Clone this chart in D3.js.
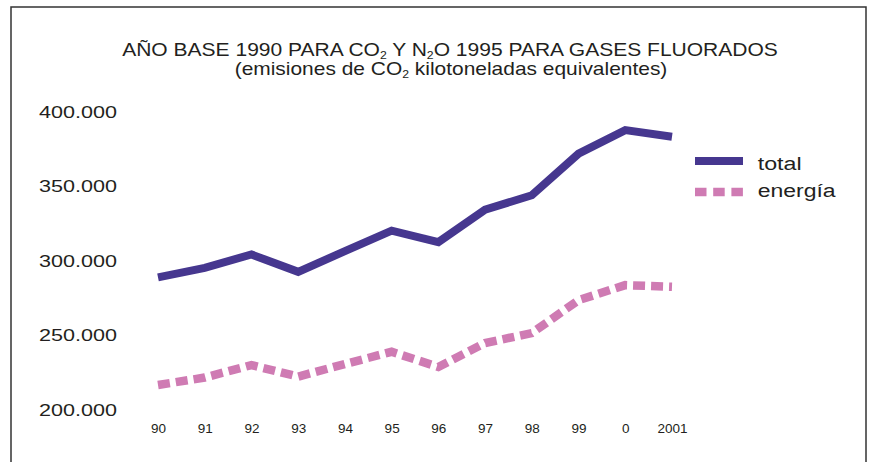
<!DOCTYPE html>
<html>
<head>
<meta charset="utf-8">
<script src="https://cdn.jsdelivr.net/npm/d3@7"></script>
<style>
  body { margin: 0; background: #fff; }
  text { font-family: "Liberation Sans", Arial, sans-serif; fill: #231f20; }
</style>
</head>
<body>
<svg id="chart" width="871" height="462"></svg>
<script>
// data
var years = ['90', '91', '92', '93', '94', '95', '96', '97', '98', '99', '0', '2001'];
var total = [288900, 295300, 304300, 292600, 306500, 320300, 312600, 334400, 344100, 372000, 387800, 383400];
var energia = [216600, 221600, 230000, 222200, 230700, 238900, 228700, 244800, 251500, 273600, 283700, 282600];
var yTicks = [200000, 250000, 300000, 350000, 400000];
var seriesNames = ['total', 'energía'];

var darkpurple = '#46378f';
var pink = '#cf7bb3';

var svg = d3.select('#chart');

// frame
svg.append('path')
  .attr('d', 'M11,462V7H866V462')
  .attr('fill', 'none')
  .attr('stroke', '#333')
  .attr('stroke-width', 1.5);

/// Scales
var x = d3.scalePoint()
  .domain(years)
  .range([158, 672]);

var y = d3.scaleLinear()
  .domain([200000, 400000])
  .range([409.7, 112]);

var es = d3.formatLocale({ decimal: ',', thousands: '.', grouping: [3], currency: ['', ' €'] });

// stretch a text horizontally to a given width (the print face is wider)
function fit(sel, w) {
  sel.each(function() {
    var len = this.getComputedTextLength();
    var t = d3.select(this);
    var cur = t.attr('transform') || '';
    t.attr('transform', cur + ' scale(' + (w / len) + ',1)');
  });
}

/// Title
var t1 = svg.append('text')
  .attr('text-anchor', 'middle')
  .attr('transform', 'translate(450,55.5)')
  .attr('font-size', '18px');
t1.append('tspan').text('AÑO BASE 1990 PARA CO');
t1.append('tspan').attr('font-size', '10.5px').attr('dy', 3).text('2');
t1.append('tspan').attr('dy', -3).text(' Y N');
t1.append('tspan').attr('font-size', '10.5px').attr('dy', 3).text('2');
t1.append('tspan').attr('dy', -3).text('O 1995 PARA GASES FLUORADOS');
fit(t1, 656);

var t2 = svg.append('text')
  .attr('text-anchor', 'middle')
  .attr('transform', 'translate(451,75)')
  .attr('font-size', '18px');
t2.append('tspan').text('(emisiones de CO');
t2.append('tspan').attr('font-size', '10.5px').attr('dy', 3).text('2');
t2.append('tspan').attr('dy', -3).text(' kilotoneladas equivalentes)');
fit(t2, 433);

/// Axes
var yAxis = svg.append('g')
  .attr('transform', 'translate(117,0)')
  .call(d3.axisLeft(y).tickValues(yTicks).tickSize(0).tickPadding(0).tickFormat(es.format(',')));
yAxis.select('.domain').remove();
yAxis.selectAll('text')
  .attr('font-size', '17px')
  .attr('font-family', '"Liberation Sans", Arial, sans-serif')
  .attr('fill', '#231f20');
fit(yAxis.selectAll('text'), 78);

var xAxis = svg.append('g')
  .attr('transform', 'translate(0,423.5)')
  .call(d3.axisBottom(x).tickSize(0).tickPadding(0));
xAxis.select('.domain').remove();
xAxis.selectAll('text')
  .attr('font-size', '13.5px')
  .attr('font-family', '"Liberation Sans", Arial, sans-serif')
  .attr('fill', '#231f20');

/// Lines
var line = d3.line()
  .x(function(d, i) { return x(years[i]); })
  .y(function(d) { return y(d); });

svg.append('path')
  .datum(energia)
  .attr('d', line)
  .attr('fill', 'none')
  .attr('stroke', pink)
  .attr('stroke-width', 8.5)
  .attr('stroke-dasharray', '12 6');

svg.append('path')
  .datum(total)
  .attr('d', line)
  .attr('fill', 'none')
  .attr('stroke', darkpurple)
  .attr('stroke-width', 8)
  .attr('stroke-linejoin', 'miter');

/// Legend
var legend = svg.append('g');
var styles = [
  { color: darkpurple, dash: null, width: 8, y: 161, base: 170, w: 44 },
  { color: pink, dash: '11.5 6.7', width: 8.5, y: 192, base: 196.7, w: 78 }
];
seriesNames.forEach(function(name, i) {
  var s = styles[i];
  legend.append('line')
    .attr('x1', 695).attr('x2', 743)
    .attr('y1', s.y).attr('y2', s.y)
    .attr('stroke', s.color)
    .attr('stroke-width', s.width)
    .attr('stroke-dasharray', s.dash);
  var lt = legend.append('text')
    .attr('transform', 'translate(757.7,' + s.base + ')')
    .attr('font-size', '19px')
    .text(name);
  fit(lt, s.w);
});
</script>
</body>
</html>
